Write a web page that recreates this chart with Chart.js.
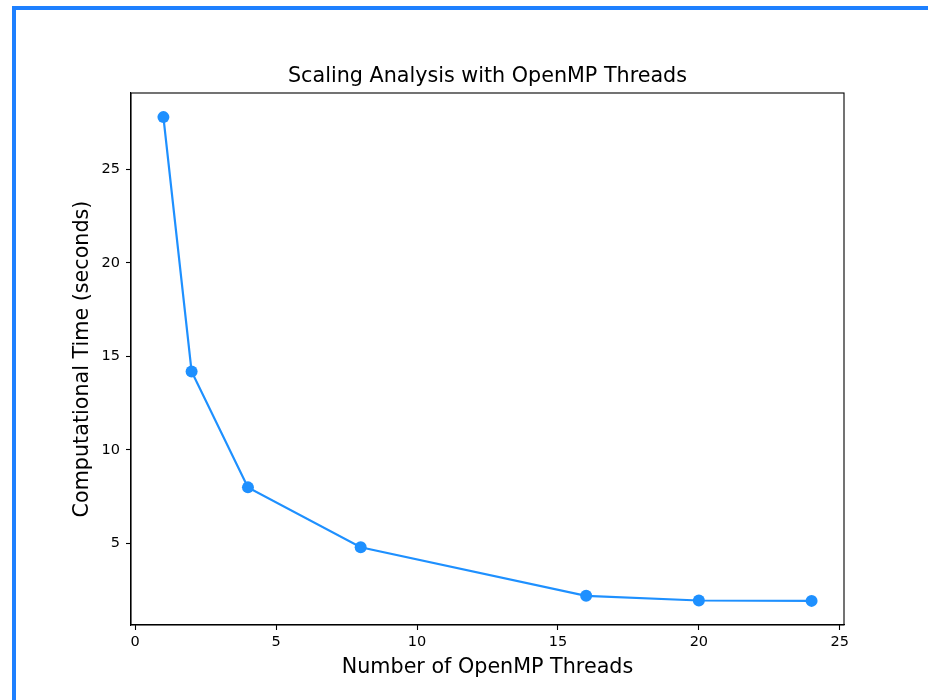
<!DOCTYPE html>
<html>
<head>
<meta charset="utf-8">
<script src="https://cdn.jsdelivr.net/npm/chart.js@4.4.1/dist/chart.umd.min.js"></script>
<style>
  html, body { margin: 0; padding: 0; background: #fff; overflow: hidden; }
  #frame {
    position: absolute; left: 12px; top: 6px; width: 1000px; height: 800px;
    border-left: 4px solid #1E80FF; border-top: 4px solid #1E80FF;
  }
  #chart { position: absolute; left: 0; top: 0; }
</style>
</head>
<body>
<div id="frame"></div>
<canvas id="chart" width="928" height="700"></canvas>
<script>
// ─── Data ─────────────────────────────────────────────────────────
const threads = [1, 2, 4, 8, 16, 20, 24];
const times   = [27.8, 14.2, 8.0, 4.8, 2.2, 1.95, 1.93];
const xTicks  = [0, 5, 10, 15, 20, 25];
const yTicks  = [5, 10, 15, 20, 25];

const TITLE  = 'Scaling Analysis with OpenMP Threads';
const XLABEL = 'Number of OpenMP Threads';
const YLABEL = 'Computational Time (seconds)';

const FONT = "'DejaVu Sans', sans-serif";
const LINE_COLOR = '#1E90FF';

Chart.defaults.font.family = FONT;
Chart.defaults.color = '#000';

// frame around the axes + title above it
const framePlugin = {
  id: 'frame',
  afterDraw(chart) {
    const { ctx, chartArea: a } = chart;
    ctx.save();
    ctx.strokeStyle = '#000';
    ctx.lineWidth = 1.1;
    ctx.strokeRect(a.left, a.top, a.right - a.left, a.bottom - a.top);
    ctx.fillStyle = '#000';
    ctx.font = '20.7px ' + FONT;
    ctx.textAlign = 'center';
    ctx.textBaseline = 'alphabetic';
    ctx.fillText(TITLE, (a.left + a.right) / 2, a.top - 11);
    ctx.restore();
  }
};

const ticksFrom = list => scale => {
  scale.ticks = list.map(v => ({ value: v }));
};

new Chart(document.getElementById('chart'), {
  type: 'line',
  data: {
    datasets: [{
      data: threads.map((t, i) => ({ x: t, y: times[i] })),
      borderColor: LINE_COLOR,
      backgroundColor: LINE_COLOR,
      borderWidth: 2.2,
      pointRadius: 6,
      pointBorderWidth: 0,
      pointBackgroundColor: LINE_COLOR,
      tension: 0,
    }]
  },
  options: {
    responsive: false,
    animation: false,
    layout: { padding: { top: 93, right: 84, left: 0, bottom: 0 } },
    plugins: {
      legend: { display: false },
      tooltip: { enabled: false },
      title: { display: false },
    },
    scales: {
      x: {
        type: 'linear',
        min: -0.15,
        max: 25.15,
        afterBuildTicks: ticksFrom(xTicks),
        afterFit: s => { s.height = 75; },
        grid: { drawOnChartArea: false, tickLength: 5, color: '#000', tickWidth: 1.1 },
        border: { display: true, color: '#000', width: 1.1 },
        ticks: { font: { size: 14.5 }, padding: 4, maxRotation: 0, autoSkip: false },
        title: { display: true, text: XLABEL, font: { size: 20.7 }, padding: { bottom: 20 } },
      },
      y: {
        type: 'linear',
        min: 0.64,
        max: 29.09,
        afterBuildTicks: ticksFrom(yTicks),
        afterFit: s => { s.width = 131; },
        grid: { drawOnChartArea: false, tickLength: 5, color: '#000', tickWidth: 1.1 },
        border: { display: true, color: '#000', width: 1.1 },
        ticks: { font: { size: 14.5 }, padding: 6, autoSkip: false },
        title: { display: true, text: YLABEL, font: { size: 20.7 }, padding: { top: 70 } },
      }
    }
  },
  plugins: [framePlugin]
});
</script>
</body>
</html>
